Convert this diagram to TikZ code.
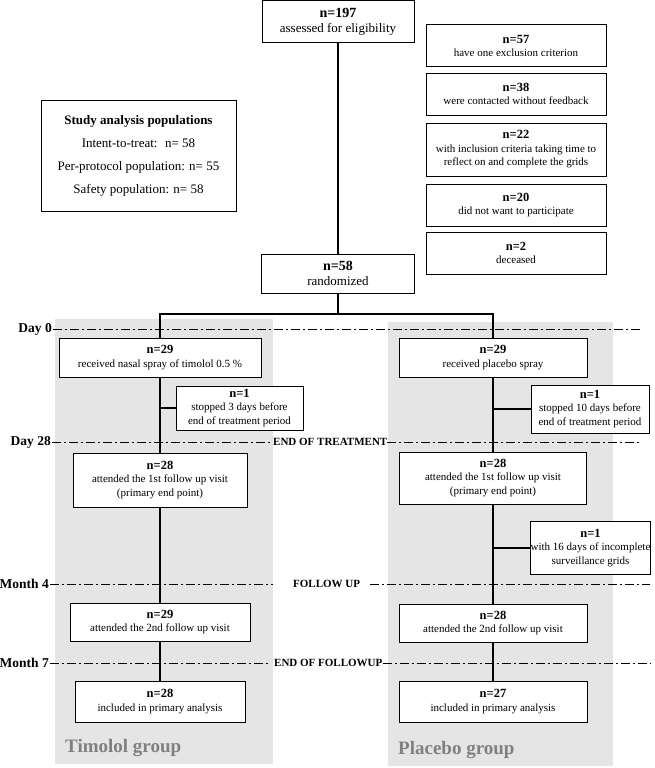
\documentclass[tikz,border=0pt]{standalone}
\usepackage{fontspec}
\setmainfont{Liberation Serif}

% bold count line of a box
\newcommand{\nlab}[1]{{\fontsize{12.5}{14}\selectfont\textbf{n=#1}}}

\begin{document}
\begin{tikzpicture}[x=1pt, y=-1pt,
	box/.style={draw, line width=1pt, fill=white, align=center, inner sep=0pt, font=\fontsize{11}{13.5}\selectfont},
	bigbox/.style={box, font=\fontsize{13}{15}\selectfont},
	link/.style={line width=1.1pt},
	timeline/.style={line width=0.9pt, dash pattern=on 9pt off 3pt on 2pt off 3pt},
	daylabel/.style={anchor=east, inner sep=1pt, font=\fontsize{13.5}{15}\selectfont\bfseries},
	phase/.style={anchor=west, inner sep=0pt, font=\fontsize{11}{13}\selectfont\bfseries},
	panel/.style={fill=black!10, draw=none},
	grouplabel/.style={anchor=west, inner sep=0pt, text=black!50, font=\fontsize{19}{22}\selectfont\bfseries}]

	\useasboundingbox (0,0) rectangle (655,768);

	% Panels {timolol, placebo}
	\fill[panel] (55,319) rectangle (273,764);
	\fill[panel] (388,322) rectangle (613,766);
	\node[grouplabel] (tgroup) at (65,748) {Timolol group};
	\node[grouplabel] (pgroup) at (398,750) {Placebo group};

	% Time line
	\node[daylabel] (d0)  at (53,329) {Day 0};
	\node[daylabel] (d28) at (52,442) {Day 28};
	\node[daylabel] (m4)  at (50,584) {Month 4};
	\node[daylabel] (m7)  at (50,663) {Month 7};
	\node[phase] (eot) at (273,442) {END OF TREATMENT};
	\node[phase] (fu)  at (293,584) {FOLLOW UP};
	\node[phase] (eof) at (274,663) {END OF FOLLOWUP};
	\coordinate (d0end)  at (640,329);
	\coordinate (d28end) at (640,442);
	\coordinate (m4end)  at (650,584);
	\coordinate (m7end)  at (650,663);

	\draw[timeline] (d0) -- (d0end);
	\draw[timeline] (d28) -- ([xshift=-3pt]eot.west);
	\draw[timeline] (eot) -- (d28end);
	\draw[timeline] (m4) -- ([xshift=-20pt]fu.west);
	\draw[timeline] ([xshift=10pt]fu.east) -- (m4end);
	\draw[timeline] (m7) -- ([xshift=-4pt]eof.west);
	\draw[timeline] (eof) -- (m7end);

	% Nodes {enrolment}
	\node[bigbox, minimum width=152pt, minimum height=42pt] (assess) at (338,22) {{\fontsize{14}{15}\selectfont\textbf{n=197}}\\assessed for eligibility};
	\node[box, minimum width=180pt, minimum height=42pt] (excl1) at (516,46) {\nlab{57}\\have one exclusion criterion};
	\node[box, minimum width=180pt, minimum height=42pt] (excl2) at (516,94) {\nlab{38}\\were contacted without feedback};
	\node[box, minimum width=180pt, minimum height=53pt] (excl3) at (516,149.5) {\nlab{22}\\with inclusion criteria taking time to\\reflect on and complete the grids};
	\node[box, minimum width=180pt, minimum height=42pt] (excl4) at (516,205) {\nlab{20}\\did not want to participate};
	\node[box, minimum width=180pt, minimum height=42pt] (excl5) at (516,253) {\nlab{2}\\deceased};
	\node[draw, line width=1pt, align=center, minimum width=195pt, minimum height=111pt, font=\fontsize{13}{23}\selectfont] (study) at (138.5,155.5)
		{\textbf{Study analysis populations}\\Intent-to-treat:~ n= 58\\Per-protocol population: n= 55\\Safety population: n= 58};
	\node[bigbox, minimum width=153pt, minimum height=39pt] (rand) at (338,273.5) {{\fontsize{14}{15}\selectfont\textbf{n=58}}\\randomized};
	\coordinate (split) at (338,314);

	% Nodes {timolol group}
	\node[box, minimum width=202pt, minimum height=39pt] (tA) at (160,357.5) {\nlab{29}\\received nasal spray of timolol 0.5 \%};
	\node[box, minimum width=127pt, minimum height=44pt] (tstop) at (239.5,408) {\nlab{1}\\stopped 3 days before\\end of treatment period};
	\node[box, minimum width=174pt, minimum height=54pt] (tB) at (160,480) {\nlab{28}\\attended the 1st follow up visit\\(primary end point)};
	\node[box, minimum width=180pt, minimum height=38pt] (tC) at (160,622) {\nlab{29}\\attended the 2nd follow up visit};
	\node[box, minimum width=170pt, minimum height=41pt] (tD) at (160,701.5) {\nlab{28}\\included in primary analysis};

	% Nodes {placebo group}
	\node[box, minimum width=188pt, minimum height=39pt] (pA) at (493,357.5) {\nlab{29}\\received placebo spray};
	\node[box, minimum width=118pt, minimum height=48pt] (pstop) at (590,409) {\nlab{1}\\stopped 10 days before\\end of treatment period};
	\node[box, minimum width=187pt, minimum height=52pt] (pB) at (493,478) {\nlab{28}\\attended the 1st follow up visit\\(primary end point)};
	\node[box, minimum width=119pt, minimum height=53pt] (pgrid) at (590.5,548) {\nlab{1}\\with 16 days of incomplete\\surveillance grids};
	\node[box, minimum width=188pt, minimum height=38pt] (pC) at (493,623) {\nlab{28}\\attended the 2nd follow up visit};
	\node[box, minimum width=188pt, minimum height=41pt] (pD) at (493,701.5) {\nlab{27}\\included in primary analysis};

	% Paths
	\draw[link] (assess) -- (rand);
	\draw[link] (rand) -- (split);
	\draw[link] (split) -| (tA);
	\draw[link] (split) -| (pA);

	\draw[link] (tA) -- (tB);
	\draw[link] (tA.south |- tstop) -- (tstop);
	\draw[link] (tB) -- (tC);
	\draw[link] (tC) -- (tD);

	\draw[link] (pA) -- (pB);
	\draw[link] (pA.south |- pstop) -- (pstop);
	\draw[link] (pB) -- (pC);
	\draw[link] (pB.south |- pgrid) -- (pgrid);
	\draw[link] (pC) -- (pD);

\end{tikzpicture}
\end{document}
